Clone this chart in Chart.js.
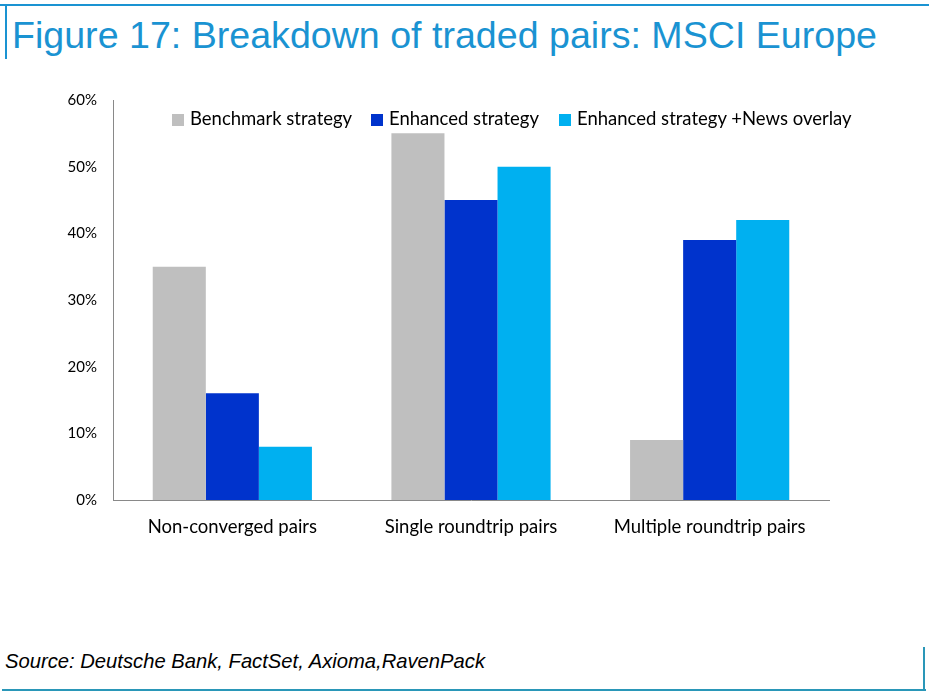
<!DOCTYPE html>
<html><head><meta charset="utf-8">
<script src="https://cdn.jsdelivr.net/npm/chart.js@4.4.0/dist/chart.umd.min.js"></script>
<style>
html,body{margin:0;padding:0;background:#fff;}
#wrap{position:relative;width:929px;height:698px;overflow:hidden;}
#c{position:absolute;left:0;top:0;}
.fit{position:absolute;white-space:nowrap;transform-origin:0 0;}
#title{left:12px;top:17px;font-family:"Liberation Sans Narrow","Liberation Sans",Arial,sans-serif;font-size:37px;color:#1a93d2;line-height:1;}
#src{left:5px;top:650px;font-family:"Liberation Sans Narrow","Liberation Sans",Arial,sans-serif;font-style:italic;font-size:21px;color:#000;line-height:1;}
.ln{position:absolute;}
#legend{position:absolute;left:0;top:0;}
.li{position:absolute;top:108px;font-family:Lato,"Open Sans",sans-serif;font-size:18.5px;color:#000;white-space:nowrap;line-height:20px;}
.li span.b{display:inline-block;width:12px;height:12px;margin-right:6px;vertical-align:-1px;}
</style></head>
<body><div id="wrap">
<div class="ln" style="left:0;top:4px;width:929px;height:2px;background:#1a93d2"></div>
<div class="ln" style="left:5px;top:4px;width:2px;height:55px;background:#1a93d2"></div>
<div class="ln" style="left:2px;top:689px;width:924px;height:2px;background:#2a97b8"></div>
<div class="ln" style="left:923px;top:647px;width:2px;height:44px;background:#2a97b8"></div>
<div id="title" class="fit">Figure 17: Breakdown of traded pairs: MSCI Europe</div>
<div id="src" class="fit">Source: Deutsche Bank, FactSet, Axioma,RavenPack</div>
<canvas id="c" width="929" height="698"></canvas>
<div id="legend"></div>
</div>
<script>
const categories = ["Non-converged pairs", "Single roundtrip pairs", "Multiple roundtrip pairs"];
const seriesNames = ["Benchmark strategy", "Enhanced strategy", "Enhanced strategy +News overlay"];
const benchmark = [35, 55, 9];
const enhanced = [16, 45, 39];
const enhancedNews = [8, 50, 42];
const yTicks = [0, 10, 20, 30, 40, 50, 60];
const colors = ["#bfbfbf", "#0033cc", "#00b0f0"];

function fit(id, w){
  const el=document.getElementById(id);
  const r=el.getBoundingClientRect().width;
  el.style.transform='scaleX('+(w/r)+')';
}
fit('title',865);
fit('src',480);

const legendX=[172,371,559];
const lg=document.getElementById('legend');
seriesNames.forEach((n,i)=>{
  const d=document.createElement('div');d.className='li';d.style.left=legendX[i]+'px';
  d.innerHTML='<span class="b" style="background:'+colors[i]+'"></span>'+n;
  lg.appendChild(d);
});

new Chart(document.getElementById('c'),{
  type:'bar',
  data:{labels:categories,datasets:[
    {label:seriesNames[0],data:benchmark,backgroundColor:colors[0]},
    {label:seriesNames[1],data:enhanced,backgroundColor:colors[1]},
    {label:seriesNames[2],data:enhancedNews,backgroundColor:colors[2]}
  ]},
  options:{
    responsive:false,animation:false,
    layout:{padding:{left:0,right:100,top:100,bottom:138}},
    plugins:{legend:{display:false},tooltip:{enabled:false}},
    datasets:{bar:{categoryPercentage:0.667,barPercentage:1.0}},
    scales:{
      x:{grid:{display:false,drawTicks:false},border:{color:'#898989',width:1},
        ticks:{color:'#000',font:{family:'Lato',size:18.5},padding:16},
        afterFit:s=>{s.height=60;}},
      y:{min:0,max:60,grid:{display:false,drawTicks:false},border:{color:'#898989',width:1},
        afterBuildTicks:s=>{s.ticks=yTicks.map(v=>({value:v}));},
        ticks:{color:'#000',font:{family:'Lato',size:15},padding:16,callback:v=>v+'%'},
        afterFit:s=>{s.width=113;}}
    }
  }
});
</script>
</body></html>
